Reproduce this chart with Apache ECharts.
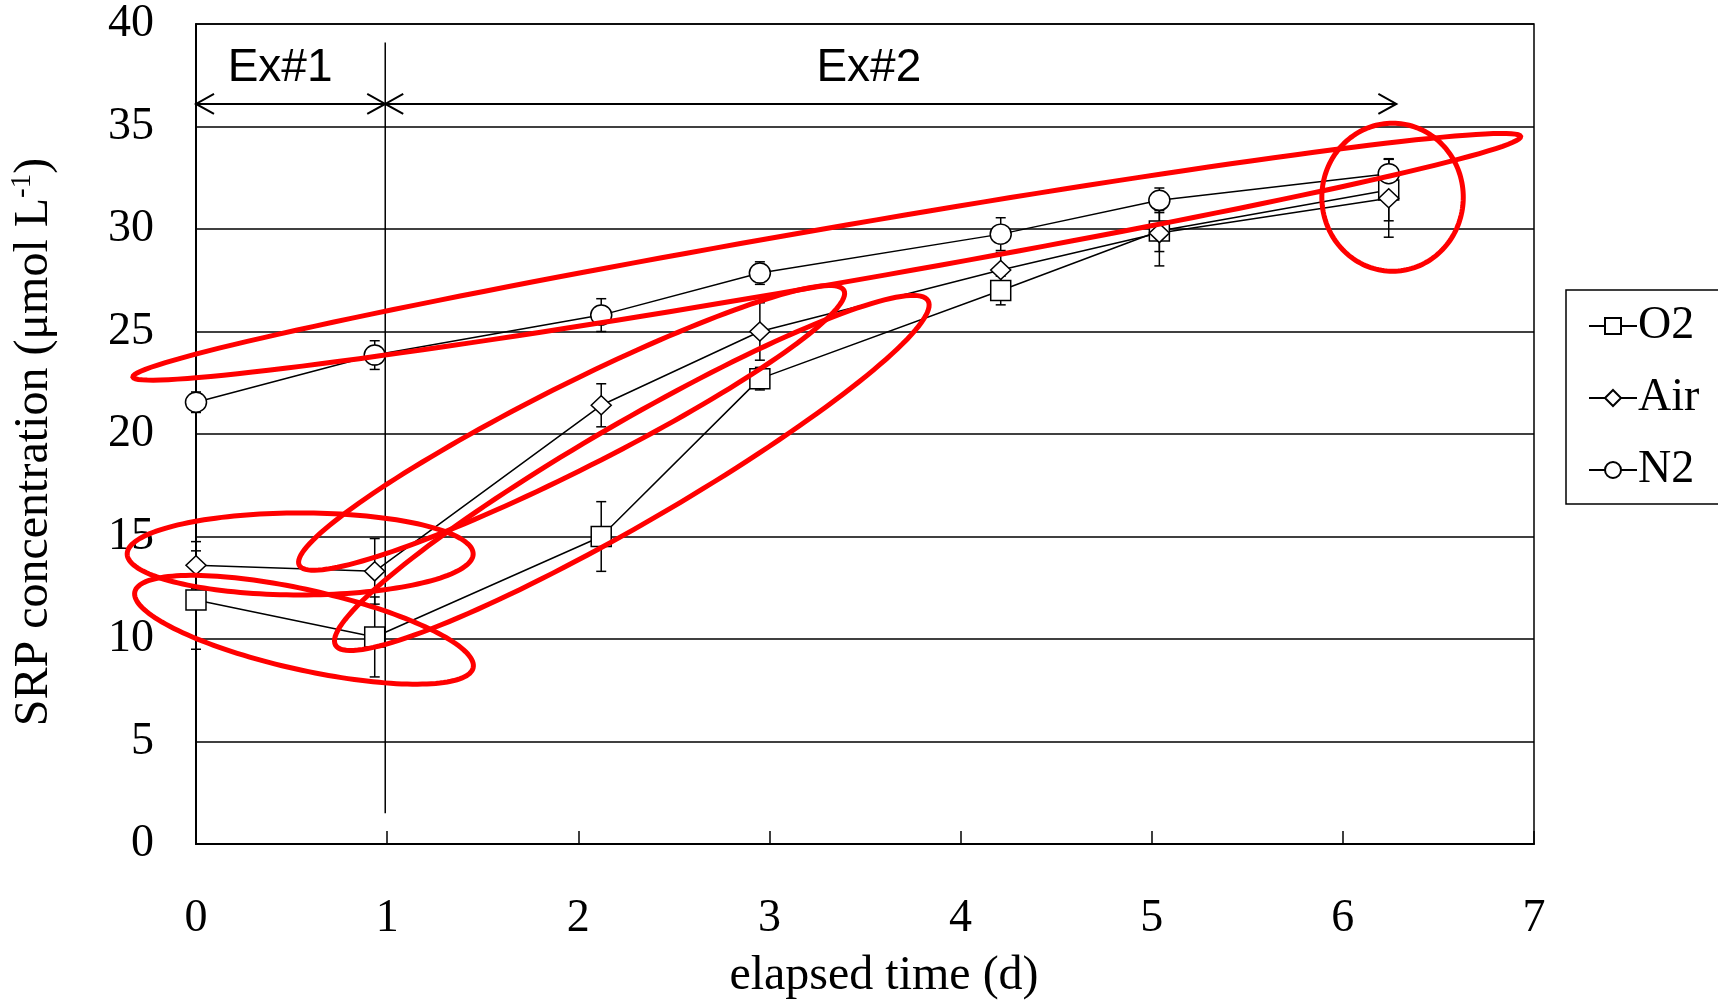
<!DOCTYPE html>
<html>
<head>
<meta charset="utf-8">
<script src="https://cdn.jsdelivr.net/npm/echarts@6/dist/echarts.min.js"></script>
<style>
    html, body { margin: 0; padding: 0; background: #fff; }
    #main { width: 1718px; height: 1005px; }
</style>
</head>
<body>
<div id="main"></div>
<script>
    // elapsed time (d) of each sampling
    var days = [0, 0.935, 2.12, 2.95, 4.21, 5.04, 6.24];
    // SRP concentration (umol/L) and error bars
    var o2 = [11.9, 10.1, 15.0, 22.7, 27.0, 29.9, 31.9];
    var o2Err = [2.4, 1.95, 1.7, 0.55, 0.7, 1.0, 1.5];
    var air = [13.6, 13.3, 21.4, 25.0, 28.0, 29.8, 31.5];
    var airErr = [1.15, 1.6, 1.05, 1.4, 0.85, 1.6, 1.9];
    var n2 = [21.55, 23.85, 25.8, 27.85, 29.75, 31.4, 32.7];
    var n2Err = [0.5, 0.7, 0.8, 0.55, 0.8, 0.6, 0.73];

    // experiment periods (arrows) and their labels
    var periods = [[0, 0.99], [0.99, 6.28]];
    var periodLabels = ['Ex#1', 'Ex#2'];
    var periodLabelX = [0.44, 3.52];
    var periodY = 36.1;
    var periodLabelY = 37.85;
    var dividerX = 0.99;
    var dividerRange = [1.5, 39.1];

    // red hand drawn rings: [x1, y1, x2, y2] tips of the long axis (data units)
    var rings = [
        [-0.33, 22.78, 6.93, 34.51],
        [0.54, 13.6, 3.39, 27.0],
        [0.73, 9.7, 3.83, 26.5],
        [-0.36, 14.15, 1.45, 14.15],
        [-0.32, 12.3, 1.45, 8.6],
        [5.89, 31.55, 6.63, 31.55]
    ];
    var ringHalfWidth = [28, 42, 50, 41, 40, 74];

    var chart = echarts.init(document.getElementById('main'));

    var serif = 'Liberation Serif';

    function pairs(ys) {
        return days.map(function (d, i) { return [d, ys[i]]; });
    }

    function errData(ys, es) {
        return days.map(function (d, i) { return [d, ys[i], es[i]]; });
    }

    function renderErr(params, api) {
        var x = api.value(0), y = api.value(1), e = api.value(2);
        var lo = api.coord([x, y - e]);
        var hi = api.coord([x, y + e]);
        var st = {stroke: '#000', lineWidth: 1.5};
        return {
            type: 'group',
            children: [
                {type: 'line', shape: {x1: lo[0], y1: lo[1], x2: hi[0], y2: hi[1]}, style: st},
                {type: 'line', shape: {x1: lo[0] - 5, y1: lo[1], x2: lo[0] + 5, y2: lo[1]}, style: st},
                {type: 'line', shape: {x1: hi[0] - 5, y1: hi[1], x2: hi[0] + 5, y2: hi[1]}, style: st}
            ]
        };
    }

    function renderRing(params, api) {
        var p1 = api.coord([api.value(0), api.value(1)]);
        var p2 = api.coord([api.value(2), api.value(3)]);
        var b = ringHalfWidth[params.dataIndex];
        var cx = (p1[0] + p2[0]) / 2, cy = (p1[1] + p2[1]) / 2;
        var a = Math.sqrt(Math.pow(p2[0] - p1[0], 2) + Math.pow(p2[1] - p1[1], 2)) / 2;
        var ang = Math.atan2(p2[1] - p1[1], p2[0] - p1[0]);
        var pts = [];
        for (var i = 0; i < 160; i++) {
            var t = i / 160 * Math.PI * 2;
            var ex = a * Math.cos(t), ey = b * Math.sin(t);
            pts.push([cx + ex * Math.cos(ang) - ey * Math.sin(ang), cy + ex * Math.sin(ang) + ey * Math.cos(ang)]);
        }
        return {
            type: 'polygon',
            shape: {points: pts},
            style: {fill: 'none', stroke: '#ff0000', lineWidth: 5}
        };
    }

    function renderPeriod(params, api) {
        var i = params.dataIndex;
        var a = api.coord([periods[i][0], periodY]);
        var b = api.coord([periods[i][1], periodY]);
        var t = api.coord([periodLabelX[i], periodLabelY]);
        var st = {stroke: '#000', lineWidth: 2, fill: 'none'};
        return {
            type: 'group',
            children: [
                {type: 'line', shape: {x1: a[0], y1: a[1], x2: b[0], y2: b[1]}, style: st},
                {type: 'polyline', shape: {points: [[a[0] + 18, a[1] - 10], [a[0], a[1]], [a[0] + 18, a[1] + 10]]}, style: st},
                {type: 'polyline', shape: {points: [[b[0] - 18, b[1] - 10], [b[0], b[1]], [b[0] - 18, b[1] + 10]]}, style: st},
                {
                    type: 'text', x: t[0], y: t[1],
                    style: {
                        text: periodLabels[i], fill: '#000', font: '46px "Liberation Sans"',
                        align: 'center', verticalAlign: 'middle'
                    }
                }
            ]
        };
    }

    function renderDivider(params, api) {
        var a = api.coord([dividerX, dividerRange[0]]);
        var b = api.coord([dividerX, dividerRange[1]]);
        return {type: 'line', shape: {x1: a[0], y1: a[1], x2: b[0], y2: b[1]}, style: {stroke: '#000', lineWidth: 1.5}};
    }

    function lineSeries(name, ys, symbol, size) {
        return {
            name: name,
            type: 'line',
            data: pairs(ys),
            symbol: symbol,
            symbolSize: size,
            showAllSymbol: true,
            z: 3,
            lineStyle: {color: '#000', width: 1.5},
            itemStyle: {color: '#fff', borderColor: '#000', borderWidth: 1.5},
            emphasis: {disabled: true},
            animation: false
        };
    }

    function errSeries(ys, es) {
        return {type: 'custom', renderItem: renderErr, data: errData(ys, es), z: 2, silent: true, animation: false};
    }

    var option = {
        backgroundColor: '#fff',
        animation: false,
        grid: {left: 195, right: 184, top: 24, bottom: 161, show: true, borderColor: '#000', borderWidth: 1.5},
        legend: {
            data: ['O2', 'Air', 'N2'],
            orient: 'vertical',
            left: 1566,
            top: 290,
            padding: [13, 30, 11, 22],
            itemGap: 26,
            itemWidth: 48,
            itemHeight: 20,
            borderColor: '#000',
            borderWidth: 1.5,
            textStyle: {fontFamily: serif, fontSize: 46, color: '#000', lineHeight: 46, padding: [0, 0, 0, -4]}
        },
        xAxis: {
            type: 'value',
            min: 0,
            max: 7,
            interval: 1,
            name: 'elapsed time (d)',
            nameLocation: 'middle',
            nameGap: 108,
            nameTextStyle: {fontFamily: serif, fontSize: 48, color: '#000', padding: [0, 0, 0, 38]},
            axisLine: {lineStyle: {color: '#000', width: 2}},
            axisTick: {inside: true, length: 13, lineStyle: {color: '#000', width: 1.5}},
            axisLabel: {fontFamily: serif, fontSize: 46, color: '#000', margin: 52},
            splitLine: {show: false}
        },
        yAxis: {
            type: 'value',
            min: 0,
            max: 40,
            interval: 5,
            name: '{a|SRP concentration (μmol L}{s|-1}{a|)}',
            nameLocation: 'middle',
            nameGap: 136,
            nameTextStyle: {
                padding: [0, 16, 0, 0],
                rich: {
                    a: {fontFamily: serif, fontSize: 48, color: '#000', lineHeight: 52},
                    s: {fontFamily: serif, fontSize: 29, color: '#000', verticalAlign: 'top', lineHeight: 52}
                }
            },
            axisLine: {show: true, lineStyle: {color: '#000', width: 2}},
            axisTick: {show: false},
            axisLabel: {fontFamily: serif, fontSize: 46, color: '#000', margin: 42},
            splitLine: {lineStyle: {color: '#000', width: 1.5}}
        },
        series: [
            errSeries(o2, o2Err),
            errSeries(air, airErr),
            errSeries(n2, n2Err),
            lineSeries('O2', o2, 'rect', 20),
            lineSeries('Air', air, 'diamond', [20, 19]),
            lineSeries('N2', n2, 'circle', [21, 20]),
            {type: 'custom', renderItem: renderDivider, data: [[dividerX, dividerRange[0]]], z: 4, silent: true, clip: false},
            {type: 'custom', renderItem: renderPeriod, data: periods.map(function (p) { return [p[0], periodY]; }), z: 4, silent: true, clip: false},
            {type: 'custom', renderItem: renderRing, data: rings, z: 6, silent: true, clip: false}
        ]
    };
    chart.setOption(option);
</script>
</body>
</html>
